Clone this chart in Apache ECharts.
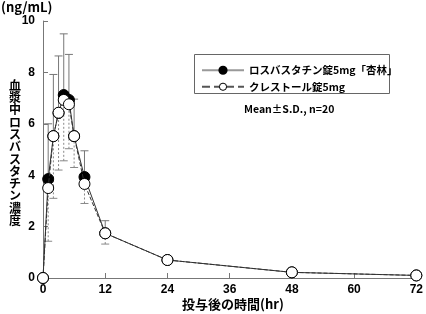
<!DOCTYPE html>
<html><head><meta charset="utf-8">
<script src="https://cdn.jsdelivr.net/npm/echarts@6/dist/echarts.min.js"></script>
<style>html,body{margin:0;padding:0;background:#fff}#c{width:426px;height:314px}</style>
</head><body><div id="c"></div>
<script>
const times = [0, 1, 2, 3, 4, 5, 6, 8, 12, 24, 48, 72];
const kyorinMean = [0, 3.85, 5.52, 6.42, 7.12, 6.93, 5.52, 3.93, 1.74, 0.70, 0.22, 0.10];
const kyorinUpper = [null, 6.0, 7.92, 8.64, 9.5, 8.7, 6.96, 4.95, 2.23, 0.82, 0.28, 0.13];
const crestorMean = [0, 3.50, 5.52, 6.43, 6.93, 6.76, 5.52, 3.66, 1.74, 0.70, 0.22, 0.10];
const crestorLower = [null, 1.43, 3.1, 4.2, 4.56, 5.03, 4.3, 2.9, 1.32, 0.58, 0.16, 0.07];
const xTicks = [0, 12, 24, 36, 48, 60, 72];
const seriesNames = ['ロスバスタチン錠5mg「杏林」', 'クレストール錠5mg'];

const pts = (xs, ys) => xs.map((x, i) => [x, ys[i]]);
const barData = (xs, a, b) => xs.map((x, i) => [x, a[i], b[i]]).filter(d => d[1] != null && d[2] != null);

function errBar(color, dash, capAtHigh) {
  return function (params, api) {
    const x = api.value(0), lo = api.value(1), hi = api.value(2);
    const p1 = api.coord([x, lo]), p2 = api.coord([x, hi]);
    const cy = capAtHigh ? p2[1] : p1[1];
    const st = { stroke: color, lineWidth: 1, lineDash: dash };
    return { type: 'group', children: [
      { type: 'line', shape: { x1: p1[0], y1: p1[1], x2: p2[0], y2: p2[1] }, style: st },
      { type: 'line', shape: { x1: p1[0] - 4, y1: cy, x2: p1[0] + 4, y2: cy }, style: { stroke: color, lineWidth: 1 } }
    ]};
  };
}

const font = 'Noto Sans CJK JP';
const chart = echarts.init(document.getElementById('c'));
chart.setOption({
  animation: false,
  grid: { left: 43, right: 7, top: 21, bottom: 36 },
  xAxis: {
    type: 'value', min: 0, max: 72, interval: 12,
    axisLine: { lineStyle: { color: '#777' } },
    axisTick: { inside: true, length: 5, lineStyle: { color: '#777' } },
    axisLabel: { color: '#000', fontWeight: 'bold', fontSize: 12, fontFamily: 'Liberation Sans', margin: 6,
      formatter: v => xTicks.includes(v) ? String(v) : '' },
    splitLine: { show: false }
  },
  yAxis: {
    type: 'value', min: 0, max: 10, interval: 2,
    axisLine: { show: true, lineStyle: { color: '#777' } },
    axisTick: { show: true, inside: true, length: 5, lineStyle: { color: '#777' } },
    axisLabel: { color: '#000', fontWeight: 'bold', fontSize: 12, fontFamily: 'Liberation Sans', margin: 8 },
    splitLine: { show: false }
  },
  legend: {
    left: 196, top: 60, orient: 'vertical', itemWidth: 42, itemHeight: 9, itemGap: 6,
    textStyle: { fontFamily: font, fontWeight: 'bold', fontSize: 10.5, color: '#000' },
    data: [
      { name: seriesNames[0], itemStyle: { color: '#000', borderColor: '#000' }, lineStyle: { color: '#999', type: 'solid' } },
      { name: seriesNames[1], itemStyle: { color: '#fff', borderColor: '#000', borderWidth: 1 }, lineStyle: { color: '#555', type: 'dashed' } }
    ]
  },
  graphic: [
    { type: 'rect', shape: { x: 194.5, y: 54.5, width: 195, height: 39 }, style: { fill: 'none', stroke: '#666', lineWidth: 1 } },
    { type: 'text', left: 244, top: 104, style: { text: 'Mean±S.D., n=20', font: 'bold 10.5px "Noto Sans CJK JP"', fill: '#000' } },
    { type: 'text', left: 1, top: 1, style: { text: '(ng/mL)', font: 'bold 13px "Noto Sans CJK JP"', fill: '#000' } },
    { type: 'text', left: 9, top: 79, style: { text: '血漿中ロスバスタチン濃度'.split('').join('\n'), font: 'bold 12px "Noto Sans CJK JP"', lineHeight: 12.3, fill: '#000', align: 'center' } },
    { type: 'text', left: 182, top: 298, style: { text: '投与後の時間(hr)', font: 'bold 13px "Noto Sans CJK JP"', fill: '#000' } }
  ],
  series: [
    { type: 'custom', z: 1, renderItem: errBar('#777', null, true), data: barData(times, kyorinMean, kyorinUpper), encode: { x: 0, y: [1, 2] }, silent: true },
    { type: 'custom', z: 1, renderItem: errBar('#888', [2, 2], false), data: barData(times, crestorLower, crestorMean), encode: { x: 0, y: [1, 2] }, silent: true },
    { name: seriesNames[0], type: 'line', z: 3, data: pts(times, kyorinMean), symbol: 'circle', symbolSize: 11,
      itemStyle: { color: '#000', borderColor: '#000', borderWidth: 1 }, lineStyle: { color: '#333', width: 1 } },
    { name: seriesNames[1], type: 'line', z: 4, data: pts(times, crestorMean), symbol: 'circle', symbolSize: 11,
      itemStyle: { color: '#fff', borderColor: '#000', borderWidth: 1 }, lineStyle: { color: '#333', width: 1, type: 'dashed' } }
  ]
});
</script></body></html>
